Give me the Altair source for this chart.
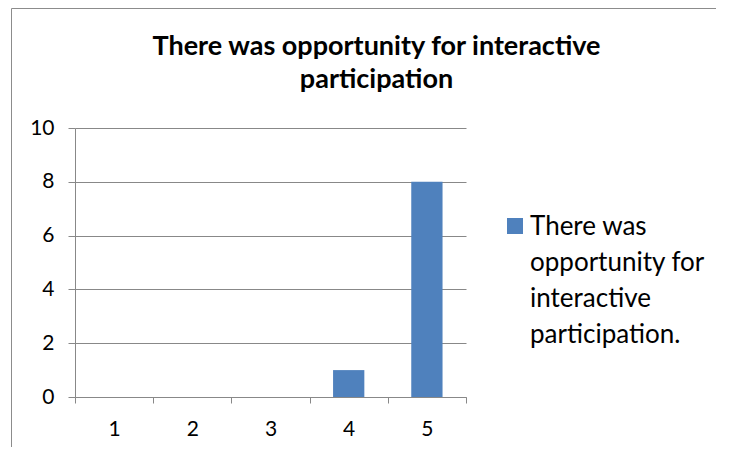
import altair as alt
import pandas as pd

categories = ["1", "2", "3", "4", "5"]
counts = [0, 0, 0, 1, 8]
series_name = "There was opportunity for interactive participation."
legend_lines = ["There was", "opportunity for", "interactive", "participation."]
title_lines = ["There was opportunity for interactive", "participation"]
y_ticks = [0, 2, 4, 6, 8, 10]

df = pd.DataFrame({"rating": categories, "count": counts, "series": [series_name] * 5})

FONT = "Lato"
GRID = "#888888"
BLUE = "#4F81BD"

bars = alt.Chart(df).mark_bar(width=alt.RelativeBandSize(0.4)).encode(
    x=alt.X("rating:O", sort=categories, title=None,
            scale=alt.Scale(paddingInner=0, paddingOuter=0),
            axis=alt.Axis(labelAngle=0, tickBand="extent", labelFontSize=21, labelFont=FONT,
                          labelColor="#000", labelPadding=15, domainColor=GRID, tickColor=GRID,
                          tickSize=6, grid=False)),
    y=alt.Y("count:Q", title=None, scale=alt.Scale(domain=[0, 10], nice=False),
            axis=alt.Axis(values=y_ticks, labelFontSize=21, labelFont=FONT, labelColor="#000",
                          labelPadding=14, domainColor=GRID, tickColor=GRID, tickSize=7,
                          gridColor=GRID, gridWidth=1)),
    color=alt.Color("series:N", scale=alt.Scale(range=[BLUE]), legend=None),
)

# legend (symbol + wrapped label)
legend_symbol = alt.Chart(alt.Data(values=[{}])).mark_rect(color=BLUE).encode(
    x=alt.value(432), x2=alt.value(448), y=alt.value(90), y2=alt.value(106))
legend_text = alt.Chart(alt.Data(values=[{}])).mark_text(
    align="left", baseline="alphabetic", font=FONT, fontSize=26, lineHeight=36, color="#000"
).encode(x=alt.value(455), y=alt.value(107), text=alt.value(legend_lines))

border = alt.Chart(alt.Data(values=[{}])).mark_rect(
    filled=False, stroke="#8c8c8c", strokeWidth=1
).encode(x=alt.value(-63.5), x2=alt.value(700), y=alt.value(-119.5), y2=alt.value(400))

chart = alt.layer(border, bars, legend_symbol, legend_text).properties(
    width=391, height=269,
    padding={"left": 67, "top": 120, "right": 250, "bottom": 50},
    autosize=alt.AutoSizeParams(type="none"),
    title=alt.TitleParams(title_lines, font=FONT, fontSize=27, fontWeight="bold", color="#000",
                          anchor="middle", frame="group", offset=-86, dx=106, lineHeight=33),
).configure_view(stroke=None)

chart.save("out.html", embed_options={"renderer": "svg", "actions": False})
